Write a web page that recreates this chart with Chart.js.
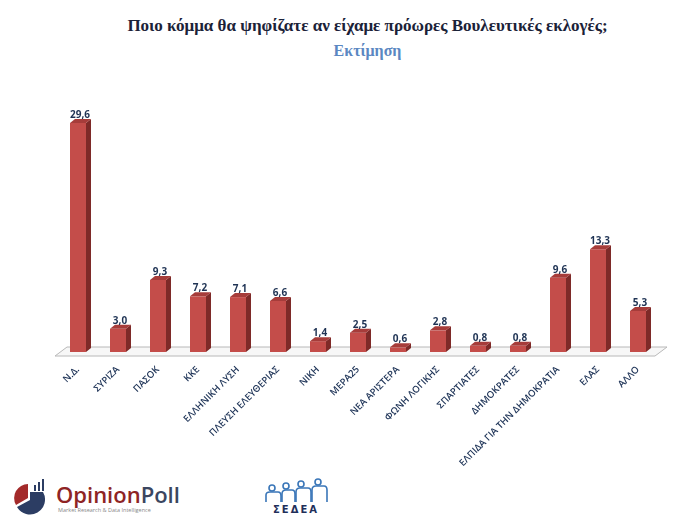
<!DOCTYPE html>
<html>
<head>
    <title>Ποιο κόμμα θα ψηφίζατε</title>
    <script src="https://cdn.jsdelivr.net/npm/chart.js@4/dist/chart.umd.min.js"></script>
    <style>
        body {
            margin: 0;
            width: 683px;
            height: 531px;
            background: #fff;
            position: relative;
            overflow: hidden;
            font-family: "Liberation Serif", serif;
        }
        .title {
            position: absolute;
            top: 16px;
            left: 0;
            width: 735px;
            text-align: center;
            font-weight: bold;
            font-size: 17px;
            color: #1b2238;
        }
        .subtitle {
            position: absolute;
            top: 42px;
            left: 0;
            width: 735px;
            text-align: center;
            font-weight: bold;
            font-size: 16px;
            color: #5b87c2;
        }
        .chart-box {
            position: absolute;
            top: 70px;
            left: 0;
            width: 683px;
            height: 400px;
        }
        .logo1 { position: absolute; left: 8px; top: 476px; }
        .logo2 { position: absolute; left: 258px; top: 478px; }
    </style>
</head>
<body>
    <div class="title">Ποιο κόμμα θα ψηφίζατε αν είχαμε πρόωρες Βουλευτικές εκλογές;</div>
    <div class="subtitle">Εκτίμηση</div>

    <div class="chart-box">
        <canvas id="pollChart"></canvas>
    </div>

    <svg class="logo1" width="180" height="42" viewBox="0 0 180 42">
        <path d="M20 22 L20 8 A14 14 0 0 0 8 29 Z" fill="#a32a2a"/>
        <path d="M22 24 L9 31 A14 14 0 1 0 35 16 L22 16 Z" fill="#2c3d63"/>
        <rect x="26" y="9" width="2" height="6" fill="#2c3d63"/>
        <rect x="30" y="6" width="2" height="9" fill="#2c3d63"/>
        <rect x="34" y="3" width="2" height="12" fill="#2c3d63"/>
        <text x="48" y="27" font-family="Open Sans, sans-serif" font-size="22" font-weight="600" fill="#8e2424">Opinion<tspan fill="#3b4660">Poll</tspan></text>
        <text x="50" y="36" font-family="Open Sans, sans-serif" font-size="5.5" fill="#888">Market Research &amp; Data Intelligence</text>
    </svg>

    <svg class="logo2" width="80" height="38" viewBox="0 0 80 38">
        <g fill="none" stroke="#3a76b8" stroke-width="1.6">
            <circle cx="14" cy="10" r="3"/>
            <circle cx="28" cy="8" r="3"/>
            <circle cx="43" cy="6" r="3"/>
            <circle cx="60" cy="4" r="3"/>
            <path d="M8 24 V17 Q8 14 12 14 H20 Q23 14 23 18 V24"/>
            <path d="M24 24 V16 Q24 12 28 12 H34 Q37 12 37 16 V24"/>
            <path d="M38 24 V14 Q38 10 42 10 H50 Q53 10 53 14 V24"/>
            <path d="M54 24 V12 Q54 8 58 8 H66 Q69 8 69 12 V24"/>
        </g>
        <text x="38" y="35" text-anchor="middle" font-family="DejaVu Sans, sans-serif" font-size="10" font-weight="bold" fill="#1f2f5a" letter-spacing="2">ΣΕΔΕΑ</text>
    </svg>

    <script>
        const parties = ['Ν.Δ.', 'ΣΥΡΙΖΑ', 'ΠΑΣΟΚ', 'ΚΚΕ', 'ΕΛΛΗΝΙΚΗ ΛΥΣΗ', 'ΠΛΕΥΣΗ ΕΛΕΥΘΕΡΙΑΣ',
            'ΝΙΚΗ', 'ΜΕΡΑ25', 'ΝΕΑ ΑΡΙΣΤΕΡΑ', 'ΦΩΝΗ ΛΟΓΙΚΗΣ', 'ΣΠΑΡΤΙΑΤΕΣ', 'ΔΗΜΟΚΡΑΤΕΣ',
            'ΕΛΠΙΔΑ ΓΙΑ ΤΗΝ ΔΗΜΟΚΡΑΤΙΑ', 'ΕΛΑΣ', 'ΑΛΛΟ'];
        const estimate = [29.6, 3.0, 9.3, 7.2, 7.1, 6.6, 1.4, 2.5, 0.6, 2.8, 0.8, 0.8, 9.6, 13.3, 5.3];

        const DEPTH_X = 5, DEPTH_Y = 4;

        // fake 3D: floor under the bars, side/top faces and value labels
        const bar3d = {
            id: 'bar3d',
            beforeDatasetsDraw(chart) {
                const ctx = chart.ctx;
                const a = chart.chartArea;
                const base = chart.scales.y.getPixelForValue(0);
                ctx.save();
                ctx.beginPath();
                ctx.moveTo(a.left - 3, base + 4);
                ctx.lineTo(a.right - 3, base + 4);
                ctx.lineTo(a.right + 9, base - 5);
                ctx.lineTo(a.left + 9, base - 5);
                ctx.closePath();
                ctx.fillStyle = '#f7f7f7';
                ctx.fill();
                ctx.strokeStyle = '#b8b8b8';
                ctx.lineWidth = 1;
                ctx.stroke();
                ctx.restore();
            },
            afterDatasetsDraw(chart) {
                const ctx = chart.ctx;
                const meta = chart.getDatasetMeta(0);
                ctx.save();
                meta.data.forEach((bar, i) => {
                    const w = bar.width;
                    const l = bar.x - w / 2, r = bar.x + w / 2;
                    const t = bar.y, b = bar.base;
                    // side
                    ctx.beginPath();
                    ctx.moveTo(r, t);
                    ctx.lineTo(r + DEPTH_X, t - DEPTH_Y);
                    ctx.lineTo(r + DEPTH_X, b - DEPTH_Y);
                    ctx.lineTo(r, b);
                    ctx.closePath();
                    ctx.fillStyle = '#7e2a28';
                    ctx.fill();
                    // top
                    ctx.beginPath();
                    ctx.moveTo(l, t);
                    ctx.lineTo(l + DEPTH_X, t - DEPTH_Y);
                    ctx.lineTo(r + DEPTH_X, t - DEPTH_Y);
                    ctx.lineTo(r, t);
                    ctx.closePath();
                    ctx.fillStyle = '#a63c3a';
                    ctx.fill();
                    // value
                    ctx.fillStyle = '#1f3354';
                    ctx.font = 'bold 10px "Open Sans", sans-serif';
                    ctx.textAlign = 'center';
                    ctx.textBaseline = 'bottom';
                    ctx.fillText(estimate[i].toFixed(1).replace('.', ','), bar.x + 2, t - 3);
                });
                ctx.restore();
            }
        };

        new Chart(document.getElementById('pollChart'), {
            type: 'bar',
            data: {
                labels: parties,
                datasets: [{
                    data: estimate,
                    backgroundColor: '#c44d4a',
                    borderWidth: 0,
                    barPercentage: 0.4,
                    categoryPercentage: 1
                }]
            },
            options: {
                responsive: true,
                maintainAspectRatio: false,
                animation: false,
                layout: {
                    padding: { left: 58, right: 25, top: 50, bottom: 0 }
                },
                plugins: {
                    legend: { display: false },
                    tooltip: { enabled: false }
                },
                scales: {
                    x: {
                        grid: { display: false, drawBorder: false },
                        border: { display: false },
                        afterFit(scale) { scale.height = 118; },
                        ticks: {
                            color: '#22375a',
                            font: { family: 'Open Sans', size: 9.5, weight: '600' },
                            minRotation: 45,
                            maxRotation: 45,
                            autoSkip: false,
                            padding: 4
                        }
                    },
                    y: {
                        display: false,
                        min: 0,
                        max: 30
                    }
                }
            },
            plugins: [bar3d]
        });
    </script>
</body>
</html>
